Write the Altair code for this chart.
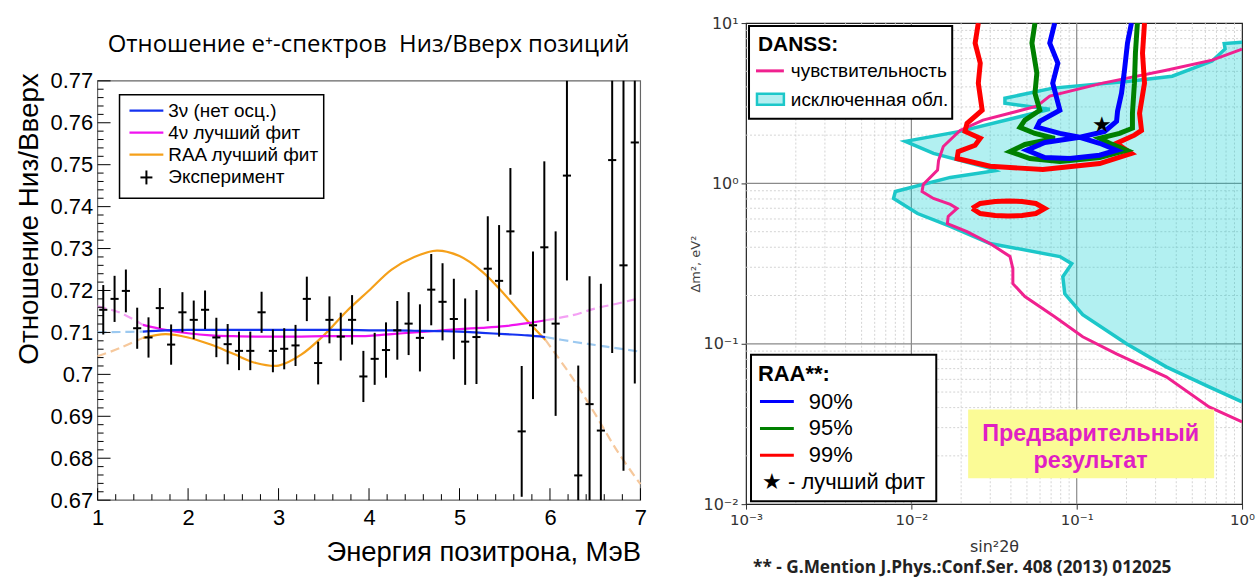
import altair as alt
import pandas as pd

# ======================= LEFT PANEL DATA =======================
energy = [1.0625, 1.1875, 1.3125, 1.4375, 1.5625, 1.6875, 1.8125, 1.9375,
          2.0625, 2.1875, 2.3125, 2.4375, 2.5625, 2.6875, 2.8125, 2.9375,
          3.0625, 3.1875, 3.3125, 3.4375, 3.5625, 3.6875, 3.8125, 3.9375,
          4.0625, 4.1875, 4.3125, 4.4375, 4.5625, 4.6875, 4.8125, 4.9375,
          5.0625, 5.1875, 5.3125, 5.4375, 5.5625, 5.6875, 5.8125, 5.9375,
          6.0625, 6.1875, 6.3125, 6.4375, 6.5625, 6.6875, 6.8125, 6.9375]
ratio = [0.7154, 0.7180, 0.7199, 0.7110, 0.7088, 0.7158, 0.7071, 0.7148,
         0.7130, 0.7154, 0.7088, 0.7072, 0.7056, 0.7056, 0.7148, 0.7056,
         0.7061, 0.7069, 0.7180, 0.7027, 0.7130, 0.7090, 0.7130, 0.6995,
         0.7037, 0.7058, 0.7105, 0.7121, 0.7087, 0.7202, 0.7173, 0.7132,
         0.7078, 0.7089, 0.7252, 0.7223, 0.7341, 0.6864, 0.7117, 0.7303,
         0.7121, 0.7474, 0.6759, 0.6929, 0.6866, 0.7511, 0.7260, 0.7553]
ratio_err = [0.0059, 0.0055, 0.0051, 0.0049, 0.0048, 0.0048, 0.0048, 0.0048,
             0.0046, 0.0046, 0.0047, 0.0048, 0.0046, 0.0046, 0.0049, 0.0051,
             0.0049, 0.0049, 0.0053, 0.0051, 0.0056, 0.0057, 0.0059, 0.0061,
             0.0062, 0.0066, 0.0070, 0.0075, 0.0080, 0.0085, 0.0092, 0.0096,
             0.0103, 0.0112, 0.0125, 0.0133, 0.0151, 0.0156, 0.0176, 0.0205,
             0.0220, 0.0250, 0.0262, 0.0305, 0.0350, 0.0460, 0.0490, 0.0575]

curve_e = [1.0, 1.25, 1.5, 1.75, 2.0, 2.25, 2.5, 2.75, 3.0, 3.25, 3.5, 3.75,
           4.0, 4.25, 4.5, 4.75, 5.0, 5.25, 5.5, 5.75, 5.95, 6.25, 6.5, 6.75, 7.0]
curve_3nu = [0.7100, 0.7101, 0.7102, 0.7105, 0.7106, 0.7106, 0.7106, 0.7106,
             0.7106, 0.7106, 0.7106, 0.7106, 0.7105, 0.7105, 0.7104, 0.7103,
             0.7102, 0.7099, 0.7096, 0.7093, 0.7089, 0.7078, 0.7070, 0.7062, 0.7054]
curve_4nu = [0.7162, 0.7147, 0.7118, 0.7106, 0.7098, 0.7093, 0.7091, 0.7090,
             0.7090, 0.7090, 0.7091, 0.7091, 0.7092, 0.7096, 0.7100, 0.7104,
             0.7108, 0.7111, 0.7115, 0.7122, 0.7129, 0.7141, 0.7157, 0.7169, 0.7182]
curve_raa = [0.7043, 0.7063, 0.7087, 0.7096, 0.7088, 0.7071, 0.7049, 0.7027,
             0.7021, 0.7047, 0.7093, 0.7150, 0.7200, 0.7250, 0.7280, 0.7295,
             0.7282, 0.7245, 0.7190, 0.7128, 0.7082, 0.6991, 0.6905, 0.6815, 0.6738]

x_major1 = [1, 2, 3, 4, 5, 6, 7]
y_major1 = [0.67, 0.68, 0.69, 0.70, 0.71, 0.72, 0.73, 0.74, 0.75, 0.76, 0.77]
x_minor1 = [round(1 + 0.2 * k, 1) for k in range(31) if k % 5]
y_minor1 = [round(0.67 + 0.002 * k, 3) for k in range(51) if k % 5]

title1 = "Отношение e⁺-спектров\u00a0 Низ/Вверх позиций"
x_title1 = "Энергия позитрона, МэВ"
y_title1 = "Отношение Низ/Вверх"
leg1_labels = ["3ν (нет осц.)", "4ν лучший фит", "RAA лучший фит", "Эксперимент"]

# ======================= RIGHT PANEL DATA =======================
cyan_x = [1.0, 0.78, 0.79, 0.659, 0.378, 0.208, 0.0716, 0.0368, 0.0368, 0.0687,
          0.0197, 0.0092, 0.0136, 0.0299, 0.0321, 0.0172, 0.0080, 0.0078, 0.0109,
          0.0172, 0.0299, 0.0791, 0.0933, 0.0824, 0.0847, 0.1087, 0.200, 0.348,
          0.632, 1.0]
cyan_y = [7.60, 7.45, 6.90, 5.79, 4.66, 4.34, 3.93, 3.40, 3.16, 2.90,
          2.11, 1.83, 1.54, 1.24, 1.20, 1.09, 0.891, 0.806, 0.649,
          0.539, 0.422, 0.350, 0.316, 0.262, 0.205, 0.152, 0.100, 0.0718,
          0.0539, 0.0434]

sens_x = [1.0, 0.659, 0.348, 0.1435, 0.0687, 0.0574, 0.0271, 0.0197, 0.0156,
          0.0146, 0.0144, 0.0118, 0.0116, 0.0136, 0.0172, 0.0189, 0.0167, 0.0165,
          0.0217, 0.0299, 0.0395, 0.0411, 0.0411, 0.0486, 0.0736, 0.1087, 0.174,
          0.348, 0.632, 1.0]
sens_y = [6.88, 5.87, 5.08, 4.22, 3.50, 3.03, 2.48, 2.14, 1.70,
          1.39, 1.21, 0.986, 0.891, 0.806, 0.740, 0.698, 0.622, 0.562,
          0.501, 0.422, 0.350, 0.294, 0.237, 0.197, 0.1475, 0.1106, 0.0866,
          0.0622, 0.0404, 0.0326]

raa99_x = [0.0254, 0.0243, 0.0261, 0.0254, 0.0268, 0.0217, 0.0211, 0.0261, 0.0243,
           0.0192, 0.0189, 0.0299, 0.0624, 0.1376, 0.2143, 0.1742, 0.2234, 0.2466,
           0.2399, 0.2570, 0.2500, 0.2570]
raa99_y = [10.0, 7.50, 5.62, 4.22, 2.86, 2.37, 2.11, 1.91, 1.73,
           1.58, 1.43, 1.28, 1.22, 1.33, 1.54, 1.78, 2.00, 2.14,
           2.74, 4.22, 6.49, 10.0]
raa99b_x = [0.0233, 0.0261, 0.0321, 0.0384, 0.0467, 0.0566, 0.0641, 0.0566, 0.0467,
            0.0384, 0.0321, 0.0261, 0.0233]
raa99b_y = [0.698, 0.750, 0.772, 0.778, 0.772, 0.750, 0.698, 0.649, 0.631,
            0.626, 0.631, 0.649, 0.698]
raa95_x = [0.0559, 0.0536, 0.0574, 0.0559, 0.0598, 0.0486, 0.0454, 0.0559, 0.0736,
           0.0486, 0.0395, 0.0521, 0.0791, 0.1376, 0.2000, 0.1582, 0.1376, 0.1815,
           0.2173, 0.2173, 0.2234, 0.2265, 0.2328]
raa95_y = [10.0, 7.50, 4.87, 3.65, 2.86, 2.48, 2.24, 2.05, 1.91,
           1.75, 1.58, 1.43, 1.37, 1.45, 1.61, 1.78, 1.91, 2.05,
           2.21, 2.74, 4.22, 6.49, 10.0]
raa90_x = [0.0736, 0.0687, 0.0769, 0.0716, 0.0791, 0.0598, 0.0574, 0.0791, 0.1042,
           0.0641, 0.0500, 0.0641, 0.0908, 0.1376, 0.1742, 0.1376, 0.1042, 0.1476,
           0.1742, 0.1766, 0.1866, 0.1945, 0.2028, 0.2143]
raa90_y = [10.0, 7.50, 5.62, 4.22, 2.86, 2.44, 2.24, 2.05, 1.94,
           1.80, 1.61, 1.45, 1.43, 1.50, 1.61, 1.78, 1.94, 2.11,
           2.44, 2.82, 3.65, 5.08, 7.50, 10.0]
best_fit_x = [0.1416]
best_fit_y = [2.30]

x_major2 = [0.001, 0.01, 0.1, 1]
y_major2 = [0.01, 0.1, 1, 10]
x_minor2 = [m * 10.0 ** e for e in (-3, -2, -1) for m in range(2, 10)]
y_minor2 = [m * 10.0 ** e for e in (-2, -1, 0) for m in range(2, 10)]

footnote = "** - G.Mention J.Phys.:Conf.Ser. 408 (2013) 012025"

# ======================= HELPERS =======================
one = pd.DataFrame({"k": [0]})
V = alt.value


def txt(text, x, y, size, font="Liberation Sans", weight="normal", color="black",
        align="left"):
    return alt.Chart(one).mark_text(text=text, font=font, fontSize=size, fontWeight=weight,
                                    color=color, align=align, baseline="middle").encode(
        x=V(x), y=V(y))


def hline(x1, x2, y, color, width):
    return alt.Chart(one).mark_rule(color=color, strokeWidth=width).encode(
        x=V(x1), x2=V(x2), y=V(y))


def box(x1, x2, y1, y2, fill, stroke, width, fill_opacity=1):
    kw = dict(fill=fill, strokeWidth=width, fillOpacity=fill_opacity)
    if stroke:
        kw["stroke"] = stroke
    return alt.Chart(one).mark_rect(**kw).encode(x=V(x1), x2=V(x2), y=V(y1), y2=V(y2))


def spacer(x, y):
    return alt.Chart(one).mark_point(opacity=0, size=1).encode(x=V(x), y=V(y))


# ======================= LEFT PANEL =======================
W1 = 545
TOP1 = 58            # room for the title inside the panel
H1 = 479             # plot frame spans TOP1..H1
xs1 = alt.Scale(domain=[1, 7], nice=False, zero=False)
ys1 = alt.Scale(domain=[0.67, 0.77], nice=False, zero=False, range=[H1, TOP1])

x_axis1 = alt.Axis(values=x_major1, format="d", labelFont="Liberation Sans", labelFontSize=22,
                   labelColor="black", labelPadding=7, labelFlush=False, ticks=False,
                   domain=False, grid=False,
                   title=x_title1, titleFont="Liberation Sans", titleFontSize=27.5,
                   titleFontWeight="normal", titleColor="black", titleX=W1, titleY=53,
                   titleAlign="right", titleBaseline="middle")
y_axis1 = alt.Axis(values=y_major1, format=".2~f", labelFont="Liberation Sans", labelFontSize=22,
                   labelColor="black", labelPadding=5, ticks=False, domain=False, grid=False,
                   title=y_title1, titleFont="Liberation Sans", titleFontSize=28,
                   titleFontWeight="normal", titleColor="black", titleX=-68, titleY=TOP1 - 8,
                   titleAlign="right", titleBaseline="middle", titleAngle=270)


def X1(f):
    return alt.X(f, scale=xs1, axis=x_axis1)


def Y1(f):
    return alt.Y(f, scale=ys1, axis=y_axis1)


pts = pd.DataFrame({"E": energy, "r": ratio, "e": ratio_err})
curves = pd.DataFrame({"E": curve_e, "nu3": curve_3nu, "nu4": curve_4nu, "raa": curve_raa})

layers1 = [box(0, W1, TOP1, H1, "white", "#666", 1.2, 0)]
series = [("raa", "#f5a01a", "#f6c89c"), ("nu4", "#f013f0", "#f4a0f4"), ("nu3", "#1432f0", "#9cc9f0")]
segments = [(1.0, 1.5, True), (1.5, 5.95, False), (5.95, 7.0, True)]
for field, col, light in series:
    for lo, hi, dashed in segments:
        mk = dict(color=light if dashed else col, strokeWidth=2.2, interpolate="catmull-rom")
        if dashed:
            mk["strokeDash"] = [9, 5]
        layers1.append(
            alt.Chart(curves).transform_filter(f"datum.E >= {lo} && datum.E <= {hi}")
            .mark_line(**mk).encode(x=X1("E:Q"), y=Y1(f"{field}:Q")))

err_v = alt.Chart(pts).transform_calculate(
    lo="max(0.67, datum.r - datum.e)", hi="min(0.77, datum.r + datum.e)").mark_rule(
    color="black", strokeWidth=2).encode(x=X1("E:Q"), y=Y1("lo:Q"), y2="hi:Q")
err_h = alt.Chart(pts).transform_calculate(a="datum.E - 0.045", b="datum.E + 0.045").mark_rule(
    color="black", strokeWidth=2).encode(x=X1("a:Q"), x2="b:Q", y=Y1("r:Q"))
layers1 += [err_v, err_h]

# inside ticks (ROOT style)
layers1.append(alt.Chart(pd.DataFrame({"v": y_major1})).mark_rule(color="black", strokeWidth=1).encode(
    y=Y1("v:Q"), x=V(0), x2=V(13)))
layers1.append(alt.Chart(pd.DataFrame({"v": y_minor1})).mark_rule(color="black", strokeWidth=1).encode(
    y=Y1("v:Q"), x=V(0), x2=V(6)))
layers1.append(alt.Chart(pd.DataFrame({"v": x_major1})).mark_rule(color="black", strokeWidth=1).encode(
    x=X1("v:Q"), y=V(H1), y2=V(H1 - 12)))
layers1.append(alt.Chart(pd.DataFrame({"v": x_minor1})).mark_rule(color="black", strokeWidth=1).encode(
    x=X1("v:Q"), y=V(H1), y2=V(H1 - 6)))

# legend
layers1.append(box(22, 227, TOP1 + 14, TOP1 + 118, "white", "black", 1.5))
leg_rows = [TOP1 + 30, TOP1 + 52, TOP1 + 74, TOP1 + 97]
for lab, (field, col, light), yy in zip(leg1_labels[:3], series[::-1], leg_rows[:3]):
    layers1.append(hline(32, 66, yy, col, 2.2))
    layers1.append(txt(lab, 71, yy, 19))
layers1.append(hline(43, 55, leg_rows[3], "black", 2))
layers1.append(alt.Chart(one).mark_rule(color="black", strokeWidth=2).encode(
    x=V(49), y=V(leg_rows[3] - 7), y2=V(leg_rows[3] + 7)))
layers1.append(txt(leg1_labels[3], 71, leg_rows[3], 19))

# title
layers1.append(txt(title1, 272, 22, 24, font="Open Sans", align="center"))
layers1 += [spacer(-92, 200), spacer(W1 + 13, 200)]

left = alt.layer(*layers1).properties(
    width=W1, height=H1, view=alt.ViewBackground(stroke="transparent"))

# ======================= RIGHT PANEL =======================
W2, H2 = 498, 483
xs2 = alt.Scale(type="log", domain=[0.001, 1], nice=False)
ys2 = alt.Scale(type="log", domain=[0.01, 10], nice=False)

x_expr = ("datum.value < 0.005 ? '10⁻³' : datum.value < 0.05 ? '10⁻²' : "
          "datum.value < 0.5 ? '10⁻¹' : '10⁰'")
y_expr = ("datum.value < 0.05 ? '10⁻²' : datum.value < 0.5 ? '10⁻¹' : "
          "datum.value < 5 ? '10⁰' : '10¹'")
x_axis2 = alt.Axis(values=x_major2, labelExpr=x_expr, labelFont="DejaVu Sans", labelFontSize=15,
                   labelColor="#333", labelPadding=3, labelFlush=False, tickSize=5,
                   tickColor="#333", domain=False,
                   grid=False, title="sin²2θ", titleFont="DejaVu Sans", titleFontSize=16,
                   titleFontWeight="normal", titleColor="#333", titleY=43, titleBaseline="middle")
y_axis2 = alt.Axis(values=y_major2, labelExpr=y_expr, labelFont="DejaVu Sans", labelFontSize=16,
                   labelColor="#333", labelPadding=3, labelFlush=False, tickSize=5,
                   tickColor="#333", domain=False,
                   grid=False, title="Δm², eV²", titleFont="DejaVu Sans", titleFontSize=13,
                   titleFontWeight="normal", titleColor="#444", titleX=-51,
                   titleBaseline="middle", titleAngle=270)


def X2(f):
    return alt.X(f, scale=xs2, axis=x_axis2)


def Y2(f):
    return alt.Y(f, scale=ys2, axis=y_axis2)


layers2 = []
layers2.append(alt.Chart(pd.DataFrame({"v": x_minor2})).mark_rule(
    color="#cfcfcf", strokeWidth=0.9, strokeDash=[2, 2]).encode(x=X2("v:Q")))
layers2.append(alt.Chart(pd.DataFrame({"v": y_minor2})).mark_rule(
    color="#cfcfcf", strokeWidth=0.9, strokeDash=[2, 2]).encode(y=Y2("v:Q")))
layers2.append(alt.Chart(pd.DataFrame({"v": x_major2[1:3]})).mark_rule(
    color="#8a8a8a", strokeWidth=1.2).encode(x=X2("v:Q")))
layers2.append(alt.Chart(pd.DataFrame({"v": y_major2[1:3]})).mark_rule(
    color="#8a8a8a", strokeWidth=1.2).encode(y=Y2("v:Q")))

cyan = pd.DataFrame({"x": cyan_x, "y": cyan_y, "i": list(range(len(cyan_x)))})
layers2.append(alt.Chart(cyan).transform_calculate(xr="1").mark_area(
    orient="horizontal", color="#00ced1", opacity=0.3, clip=True).encode(
    y=Y2("y:Q"), x=X2("x:Q"), x2="xr:Q"))
layers2.append(alt.Chart(cyan).mark_line(color="#1cc7c9", strokeWidth=3.5, clip=True).encode(
    x=X2("x:Q"), y=Y2("y:Q"), order="i:Q"))

sens = pd.DataFrame({"x": sens_x, "y": sens_y, "i": list(range(len(sens_x)))})
layers2.append(alt.Chart(sens).mark_line(color="#f0218f", strokeWidth=3, clip=True).encode(
    x=X2("x:Q"), y=Y2("y:Q"), order="i:Q"))

for cx, cy, col in [(raa99_x, raa99_y, "#ff0000"), (raa99b_x, raa99b_y, "#ff0000"),
                    (raa95_x, raa95_y, "#008000"), (raa90_x, raa90_y, "#0000ff")]:
    d = pd.DataFrame({"x": cx, "y": cy, "i": list(range(len(cx)))})
    layers2.append(alt.Chart(d).mark_line(color=col, strokeWidth=5, clip=True).encode(
        x=X2("x:Q"), y=Y2("y:Q"), order="i:Q"))

layers2.append(alt.Chart(pd.DataFrame({"x": best_fit_x, "y": best_fit_y})).mark_text(
    text="★", font="DejaVu Sans", fontSize=22, color="black", baseline="middle").encode(
    x=X2("x:Q"), y=Y2("y:Q")))

# DANSS legend
layers2.append(box(3, 207, 3, 96, "white", "black", 2))
layers2.append(txt("DANSS:", 12, 22, 21, weight="bold"))
layers2.append(hline(10, 38, 48, "#f0218f", 3))
layers2.append(txt("чувствительность", 45, 48, 19))
layers2.append(box(11, 38, 71, 82, "#b3eef0", "#1cc7c9", 2.5))
layers2.append(txt("исключенная обл.", 45, 77, 19))

# RAA legend
layers2.append(box(5, 191, 333, 480, "white", "black", 2))
layers2.append(txt("RAA**:", 12, 352, 22, weight="bold"))
for lab, col, yy in [("90%", "#0000ff", 380), ("95%", "#008000", 407), ("99%", "#ff0000", 434)]:
    layers2.append(hline(14, 48, yy, col, 3))
    layers2.append(txt(lab, 63, yy, 22))
layers2.append(txt("★ - лучший фит", 16, 461, 22))

# preliminary box
layers2.append(box(223, 470, 388, 457, "#fbfb96", None, 0))
layers2.append(txt("Предварительный", 346, 413, 23.5, weight="bold", color="#e01fc4", align="center"))
layers2.append(txt("результат", 346, 440, 23.5, weight="bold", color="#e01fc4", align="center"))

layers2.append(txt(footnote, 7, 547, 17.3, font="Open Sans", weight="bold", color="#222"))
layers2 += [spacer(-60, -15)]

right = alt.layer(*layers2).properties(
    width=W2, height=H2, view=alt.ViewBackground(stroke="#222", strokeWidth=1.2))

chart = alt.hconcat(left, right, spacing=30).properties(
    padding={"left": 5, "top": 5, "right": 0, "bottom": 0},
    background="white")

chart.save("out.html", embed_options={"renderer": "svg", "actions": False})
